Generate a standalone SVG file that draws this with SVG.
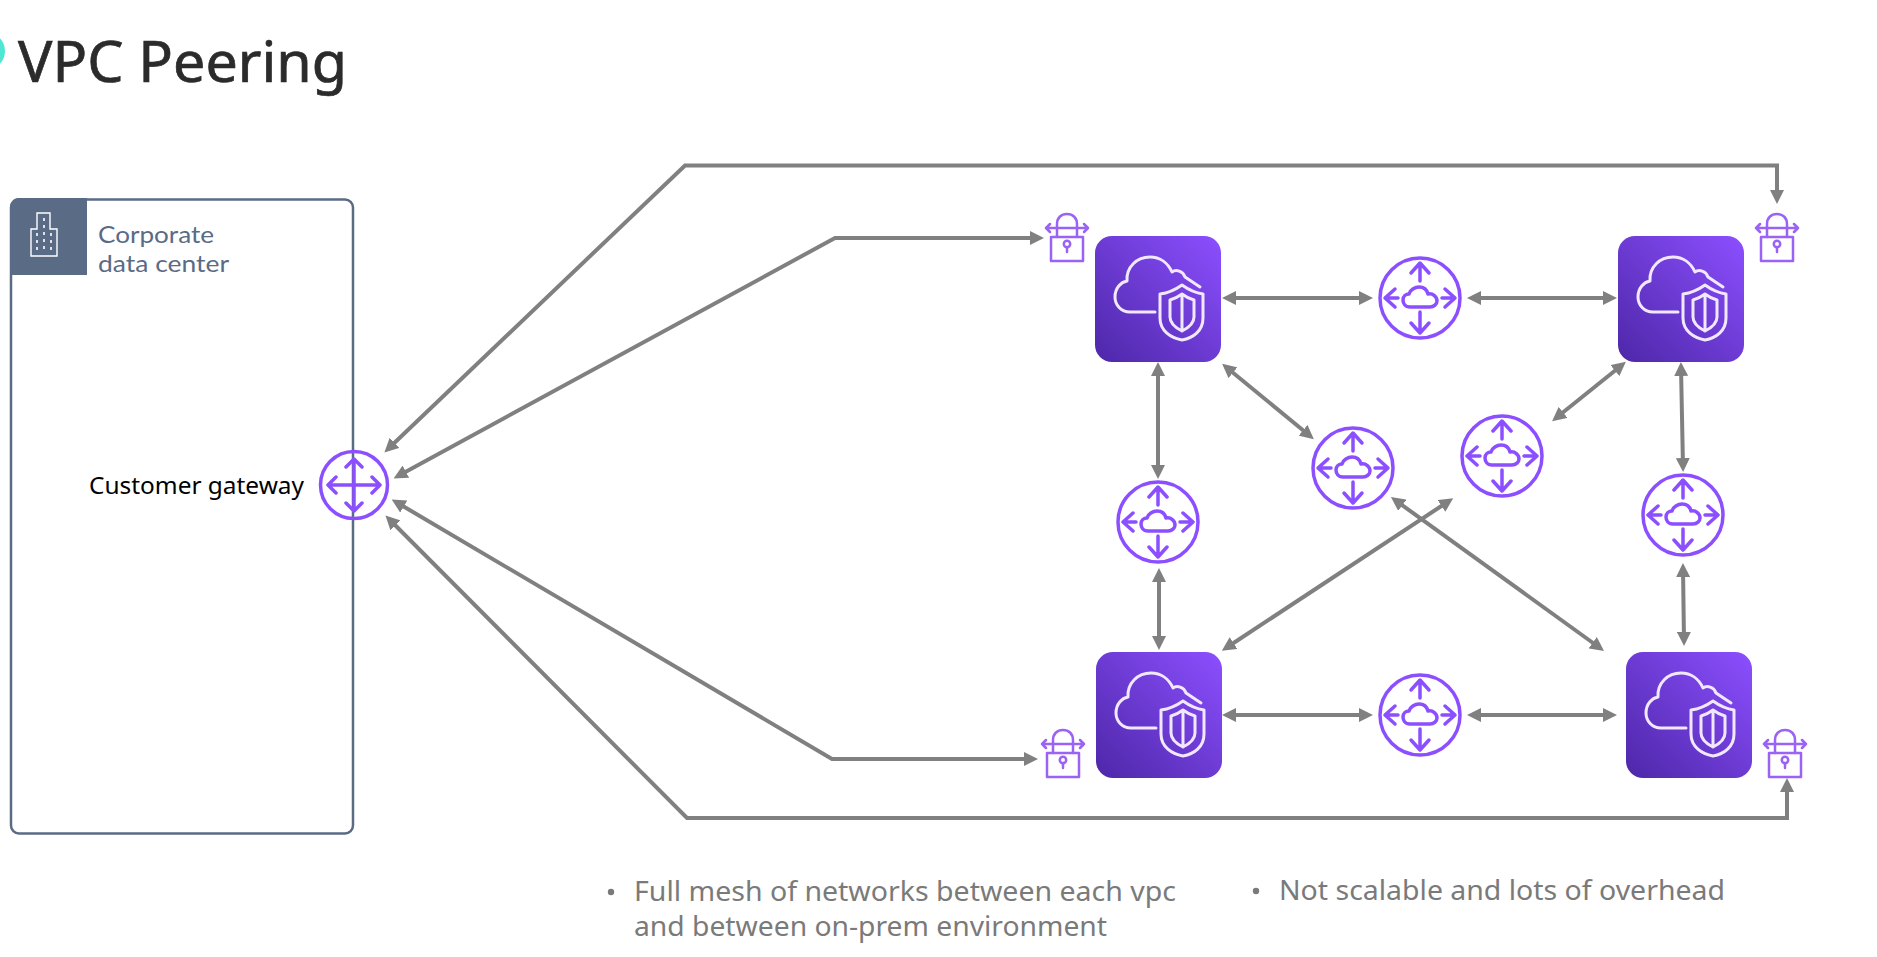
<svg xmlns="http://www.w3.org/2000/svg" width="1877" height="957" viewBox="0 0 1877 957">
<style>
.t{font-family:"Noto Sans","Open Sans",sans-serif}
.c{fill:none;stroke:#808080;stroke-width:4;stroke-linejoin:miter}
.ic{fill:none;stroke:#8c4fff;stroke-width:3.500;stroke-linecap:round;stroke-linejoin:round}
.lk{fill:none;stroke:#9a62f5;stroke-width:2.500;stroke-linecap:round;stroke-linejoin:round}
.vp{fill:none;stroke:#f1e8ff;stroke-width:3;stroke-linecap:round;stroke-linejoin:round}
.b{font-size:27px;fill:#7a7a7a}
.cd{font-family:Lato,"Noto Sans",sans-serif;font-size:24px;fill:#5a6b86}
</style>
<defs>
<linearGradient id="vg" x1="0" y1="1" x2="1" y2="0"><stop offset="0" stop-color="#4d27a8"/><stop offset="1" stop-color="#8c4fff"/></linearGradient>
<marker id="a" viewBox="0 0 14 14" refX="9" refY="7" markerWidth="14" markerHeight="14" markerUnits="userSpaceOnUse" orient="auto-start-reverse"><path d="M0 0L14 7L0 14Z" fill="#808080"/></marker>
<g id="vpc">
<rect width="126" height="126" rx="17" fill="url(#vg)"/>
<path class="vp" d="M60 76H35C26 76 20 69 20 61C20 52 26 46 32 45C31 31 42 21 55 21C65 21 73 27 77 36C81 33 88 35 90 41L105 51"/>
<path class="vp" d="M87 49C94 54 101 57 108 58V82C108 95 98 102 87 104C76 102 65 95 65 82V58C73 57 80 54 87 49Z"/>
<path class="vp" d="M87 58C91 61 95 63 99 64V81C99 88 93 92 87 95C81 92 75 88 75 81V64C79 63 83 61 87 58ZM87 58V95"/>
</g>
<g id="router">
<circle r="40" fill="#fff" class="ic"/>
<path class="ic" d="M0-17V-34M-9-25L0-35L9-25M0 14V34M-9 25L0 35L9 25M-22 0H-34M-25-9L-35 0L-25 9M22 0H34M25-9L35 0L25 9"/>
<path class="ic" d="M-10 9C-15 9-17 5-17 2C-17-2-14-4-11-4C-10-8-5-11-1-11C4-11 7-8 8-4C13-5 17-1 17 3C17 6 14 9 10 9Z"/>
</g>
<g id="lock">
<path class="lk" d="M-10 23V10C-10 4-6 0 0 0C6 0 10 4 10 10V23M-21 14H21M-17 10L-21 14L-17 18M17 10L21 14L17 18"/>
<rect class="lk" x="-16" y="23" width="32" height="24"/>
<circle class="lk" cy="30" r="3.200"/>
<path class="lk" d="M0 33V38"/>
</g>
</defs>
<rect width="1877" height="957" fill="#fff"/>
<circle cx="-14" cy="51" r="19" fill="#4fe6d2"/>
<text id="title" class="t" x="18" y="82" font-size="56" fill="#2b2b2b" stroke="#2b2b2b" stroke-width="0.700" textLength="329" lengthAdjust="spacingAndGlyphs">VPC Peering</text>
<g id="corporate-data-center">
<rect x="11" y="199.500" width="342" height="634" rx="8" fill="#fff" stroke="#5a6b86" stroke-width="2.500"/>
<path d="M10 275V207C10 202 14 198 18 198H87V275Z" fill="#5a6b86"/>
<path d="M31 256V229H37V213H50V229H57V256Z" fill="none" stroke="#fff" stroke-width="1.400"/>
<path d="M44 218V252M37 233V252M51 233V252" fill="none" stroke="#fff" stroke-width="1.600" stroke-dasharray="3 4"/>
<text class="cd" x="98" y="243" textLength="116" lengthAdjust="spacingAndGlyphs">Corporate</text>
<text class="cd" x="98" y="272" textLength="131" lengthAdjust="spacingAndGlyphs">data center</text>
</g>
<g id="connectors" class="c">
<path class="c" marker-start="url(#a)" marker-end="url(#a)" d="M388 449L685 165.500H1777V199"/>
<path class="c" marker-start="url(#a)" marker-end="url(#a)" d="M398 476L835 238H1039"/>
<path class="c" marker-start="url(#a)" marker-end="url(#a)" d="M396 502L832 759H1033"/>
<path class="c" marker-start="url(#a)" marker-end="url(#a)" d="M389 519L687 818H1787V783"/>
<path class="c" marker-start="url(#a)" marker-end="url(#a)" d="M1227 298H1368"/>
<path class="c" marker-start="url(#a)" marker-end="url(#a)" d="M1472 298H1612"/>
<path class="c" marker-start="url(#a)" marker-end="url(#a)" d="M1227 715H1368"/>
<path class="c" marker-start="url(#a)" marker-end="url(#a)" d="M1472 715H1612"/>
<path class="c" marker-start="url(#a)" marker-end="url(#a)" d="M1158 367V474"/>
<path class="c" marker-start="url(#a)" marker-end="url(#a)" d="M1159 573V645"/>
<path class="c" marker-start="url(#a)" marker-end="url(#a)" d="M1226 367L1310 436"/>
<path class="c" marker-start="url(#a)" marker-end="url(#a)" d="M1622 365L1556 418"/>
<path class="c" marker-start="url(#a)" marker-end="url(#a)" d="M1449 501L1226 648"/>
<path class="c" marker-start="url(#a)" marker-end="url(#a)" d="M1395 500L1600 648"/>
<path class="c" marker-start="url(#a)" marker-end="url(#a)" d="M1681 367L1683 467"/>
<path class="c" marker-start="url(#a)" marker-end="url(#a)" d="M1683 568L1684 641"/>
</g>
<g id="customer-gateway">
<circle cx="354" cy="485" r="33.500" fill="none" stroke="#8c4fff" stroke-width="3.500"/>
<path class="ic" stroke-width="3" d="M354 459V511M328 485H380M346 467L354 459L362 467M346 503L354 511L362 503M336 477L328 485L336 493M372 477L380 485L372 493"/>
<text class="t" x="89" y="494" font-size="24" fill="#000" textLength="215" lengthAdjust="spacingAndGlyphs">Customer gateway</text>
</g>
<use id="vpc-top-left" href="#vpc" x="1095" y="236"/>
<use id="vpc-top-right" href="#vpc" x="1618" y="236"/>
<use id="vpc-bottom-left" href="#vpc" x="1096" y="652"/>
<use id="vpc-bottom-right" href="#vpc" x="1626" y="652"/>
<use id="router-top" href="#router" x="1420" y="298"/>
<use id="router-center-left" href="#router" x="1353" y="468"/>
<use id="router-left" href="#router" x="1158" y="522"/>
<use id="router-center-right" href="#router" x="1502" y="456"/>
<use id="router-right" href="#router" x="1683" y="515"/>
<use id="router-bottom" href="#router" x="1420" y="715"/>
<use id="lock-top-left" href="#lock" x="1067" y="214"/>
<use id="lock-top-right" href="#lock" x="1777" y="214"/>
<use id="lock-bottom-left" href="#lock" x="1063" y="730"/>
<use id="lock-bottom-right" href="#lock" x="1785" y="730"/>
<g id="notes">
<circle cx="611" cy="892" r="3.200" fill="#7a7a7a"/>
<text class="t b" x="634" y="901" textLength="542" lengthAdjust="spacingAndGlyphs">Full mesh of networks between each vpc</text>
<text class="t b" x="634" y="936" textLength="473" lengthAdjust="spacingAndGlyphs">and between on-prem environment</text>
<circle cx="1256" cy="891" r="3.200" fill="#7a7a7a"/>
<text class="t b" x="1279" y="900" textLength="446" lengthAdjust="spacingAndGlyphs">Not scalable and lots of overhead</text>
</g>
</svg>
